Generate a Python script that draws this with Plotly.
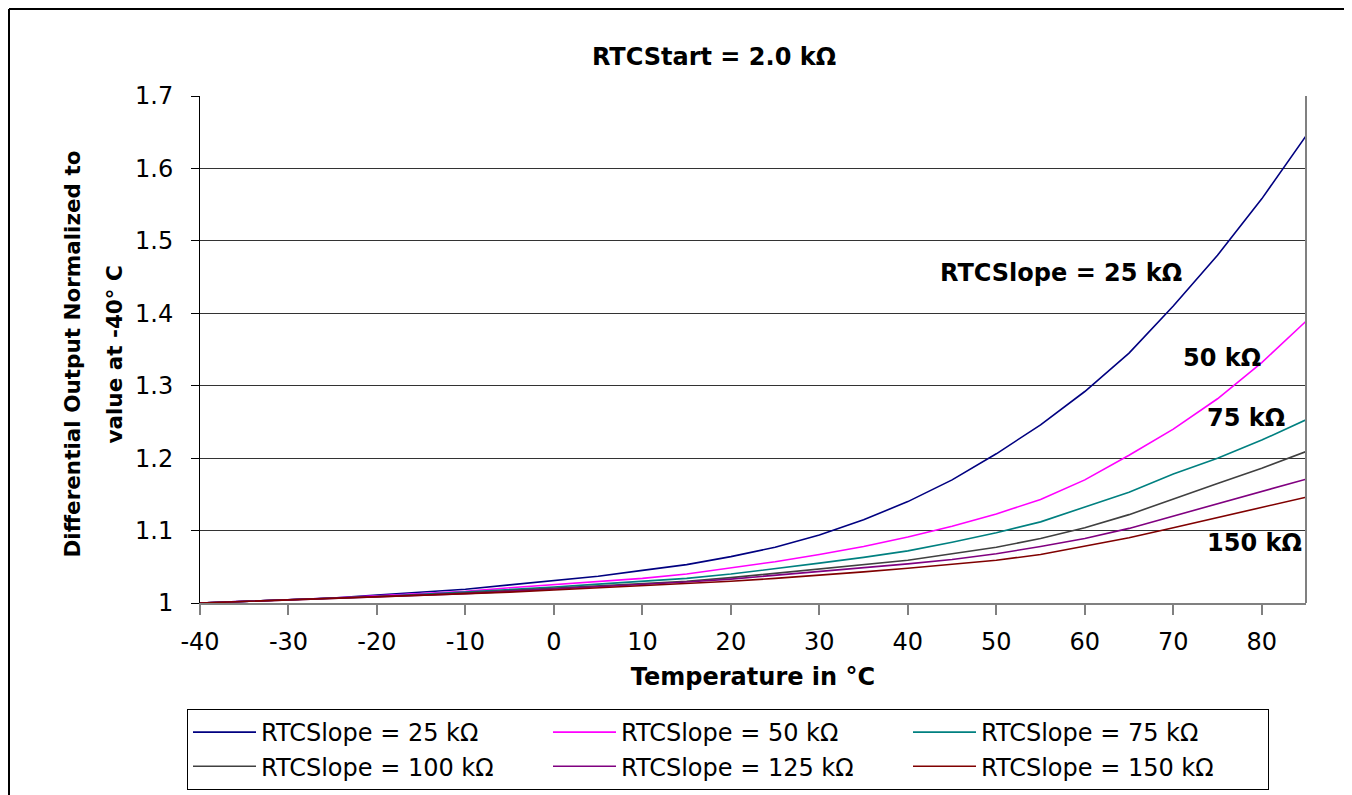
import plotly.graph_objects as go

temps = [-40, -35, -30, -25, -20, -15, -10, -5, 0, 5, 10, 15, 20, 25, 30, 35, 40,
         45, 50, 55, 60, 65, 70, 75, 80, 85]

slope_25k = [1.000, 1.002, 1.004, 1.007, 1.011, 1.015, 1.019, 1.025, 1.031, 1.037, 1.045,
             1.053, 1.064, 1.077, 1.094, 1.115, 1.140, 1.170, 1.206, 1.246, 1.292, 1.345,
             1.410, 1.480, 1.558, 1.645]
slope_50k = [1.000, 1.002, 1.004, 1.007, 1.010, 1.013, 1.016, 1.021, 1.025, 1.029, 1.034,
             1.040, 1.048, 1.057, 1.067, 1.078, 1.091, 1.106, 1.123, 1.143, 1.170, 1.204,
             1.240, 1.282, 1.332, 1.389]
slope_75k = [1.000, 1.002, 1.004, 1.006, 1.009, 1.012, 1.015, 1.019, 1.022, 1.026, 1.030,
             1.034, 1.040, 1.047, 1.055, 1.063, 1.072, 1.084, 1.097, 1.112, 1.132, 1.153,
             1.178, 1.200, 1.225, 1.253]
slope_100k = [1.000, 1.002, 1.004, 1.006, 1.008, 1.011, 1.014, 1.017, 1.020, 1.023, 1.026,
              1.030, 1.035, 1.041, 1.047, 1.053, 1.059, 1.068, 1.077, 1.089, 1.104, 1.122,
              1.144, 1.165, 1.186, 1.209]
slope_125k = [1.000, 1.002, 1.004, 1.006, 1.008, 1.011, 1.013, 1.016, 1.019, 1.022, 1.025,
              1.029, 1.033, 1.038, 1.043, 1.048, 1.054, 1.060, 1.068, 1.078, 1.089, 1.103,
              1.120, 1.138, 1.154, 1.171]
slope_150k = [1.000, 1.002, 1.004, 1.006, 1.008, 1.010, 1.012, 1.015, 1.018, 1.021, 1.023,
              1.026, 1.030, 1.034, 1.038, 1.043, 1.048, 1.053, 1.059, 1.067, 1.078, 1.090,
              1.104, 1.118, 1.132, 1.146]

series_names = ["RTCSlope = 25 kΩ", "RTCSlope = 50 kΩ", "RTCSlope = 75 kΩ",
                "RTCSlope = 100 kΩ", "RTCSlope = 125 kΩ", "RTCSlope = 150 kΩ"]
series_values = [slope_25k, slope_50k, slope_75k, slope_100k, slope_125k, slope_150k]
series_colors = ["#000080", "#FF00FF", "#008080", "#404040", "#800080", "#800000"]

x_ticks = [-40, -30, -20, -10, 0, 10, 20, 30, 40, 50, 60, 70, 80]
x_tick_labels = ["-40", "-30", "-20", "-10", "0", "10", "20", "30", "40", "50", "60", "70", "80"]
y_ticks = [1, 1.1, 1.2, 1.3, 1.4, 1.5, 1.6, 1.7]
y_tick_labels = ["1", "1.1", "1.2", "1.3", "1.4", "1.5", "1.6", "1.7"]

title_text = "RTCStart = 2.0 kΩ"
x_title = "Temperature in °C"
y_title_lines = ["Differential Output Normalized to", "value at -40° C"]

labels = [("RTCSlope = 25 kΩ", 57.3, 1.4556),
          ("50 kΩ", 75.5, 1.338),
          ("75 kΩ", 78.2, 1.2554),
          ("150 kΩ", 79.2, 1.0828)]

FONT = "DejaVu Sans"

fig = go.Figure()
for name, vals, col in zip(series_names, series_values, series_colors):
    fig.add_trace(go.Scatter(x=temps, y=vals, mode="lines", name=name,
                             line=dict(color=col, width=1.6)))

for txt, lx, ly in labels:
    fig.add_annotation(x=lx, y=ly, xref="x", yref="y", text=txt, showarrow=False,
                       xanchor="center", yanchor="middle",
                       font=dict(family=FONT, size=24, color="black", weight="bold"))

# y-axis title as two rotated lines
fig.add_annotation(x=(73 - 200) / 1106, y=0.49, xref="paper", yref="paper",
                   text=y_title_lines[0], textangle=-90, showarrow=False,
                   xanchor="center", yanchor="middle",
                   font=dict(family=FONT, size=21.5, color="black", weight="bold"))
fig.add_annotation(x=(115 - 200) / 1106, y=0.49, xref="paper", yref="paper",
                   text=y_title_lines[1], textangle=-90, showarrow=False,
                   xanchor="center", yanchor="middle",
                   font=dict(family=FONT, size=21.5, color="black", weight="bold"))

# outer frame (left + top edges visible)
fx0 = (1 - 192) / 1106
fy1 = (603 - 9) / 507
fig.add_shape(type="line", xref="paper", yref="paper", x0=fx0, x1=fx0, y0=-0.45, y1=fy1,
              line=dict(color="black", width=2))
fig.add_shape(type="line", xref="paper", yref="paper", x0=fx0, x1=1.08, y0=fy1, y1=fy1,
              line=dict(color="black", width=2))
# right edge of plot area
fig.add_shape(type="line", xref="paper", yref="paper", x0=1, x1=1, y0=0, y1=1,
              line=dict(color="#808080", width=2))

fig.update_layout(
    width=1352, height=795,
    margin=dict(l=192, r=54, t=88, b=200),
    paper_bgcolor="white", plot_bgcolor="white",
    font=dict(family=FONT, size=24, color="black"),
    title=dict(text=title_text, xref="container", yref="container",
               x=706 / 1352, y=1 - 49 / 795, xanchor="center", yanchor="middle",
               font=dict(family=FONT, size=24, color="black", weight="bold")),
    showlegend=True,
    legend=dict(orientation="h", x=(187 - 200) / 1106, y=(603 - 709) / 507,
                xanchor="left", yanchor="top", bordercolor="black", borderwidth=1,
                entrywidth=282, itemwidth=63,
                font=dict(family=FONT, size=24, color="black")),
    xaxis=dict(range=[-40, 85], tickvals=x_ticks, ticktext=x_tick_labels,
               ticks="outside", ticklen=10,
               tickcolor="#808080", tickwidth=2, showline=True, linecolor="#808080",
               linewidth=2, showgrid=False, zeroline=False, ticklabelstandoff=6,
               title=dict(text=x_title, standoff=13,
                          font=dict(family=FONT, size=24, color="black", weight="bold"))),
    yaxis=dict(range=[1, 1.7], tickvals=y_ticks, ticktext=y_tick_labels,
               ticks="outside", ticklen=8,
               tickcolor="black", tickwidth=1, showline=True, linecolor="black",
               linewidth=1, showgrid=True, gridcolor="#333333", gridwidth=1,
               zeroline=False, ticklabelstandoff=13),
)

fig.write_html("out.html")
